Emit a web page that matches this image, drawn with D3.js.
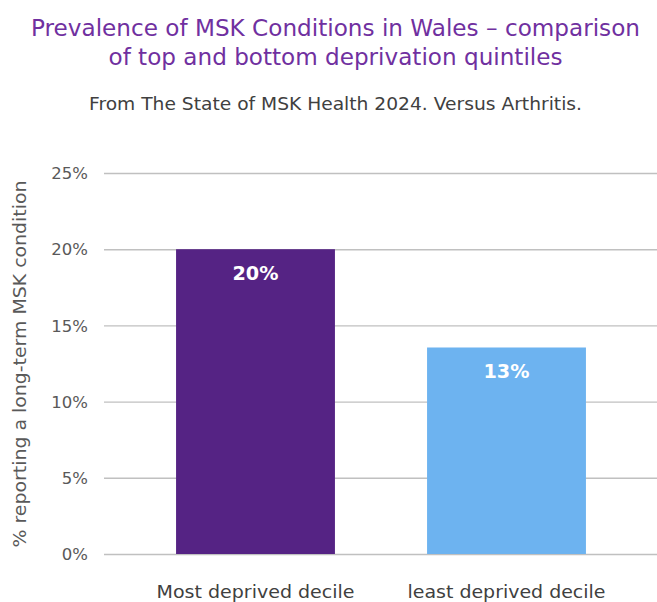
<!DOCTYPE html>
<html><head><meta charset="utf-8">
<script src="https://cdn.jsdelivr.net/npm/d3@7"></script>
<style>body{margin:0;background:#fff}svg{display:block}</style>
</head><body>
<svg id="c" width="657" height="602"></svg>
<script>
const categories = ["Most deprived decile", "least deprived decile"];
const values = [20.0, 13.55];
const valueLabels = ["20%", "13%"];
const barColors = ["#552384", "#6db3f0"];
const yTicks = [0, 5, 10, 15, 20, 25];
const titleLines = ["Prevalence of MSK Conditions in Wales \u2013 comparison", "of top and bottom deprivation quintiles"];
const subtitle = "From The State of MSK Health 2024. Versus Arthritis.";
const yTitle = "% reporting a long-term MSK condition";

const font = "'DejaVu Sans', sans-serif";
const svg = d3.select("#c");
const y = d3.scaleLinear().domain([0, 25]).range([554, 173]);
const x = d3.scaleBand().domain(categories).range([130, 632]).paddingInner(0.367).paddingOuter(0.1835);

// gridlines + y tick labels
const yAxis = d3.axisLeft(y).tickValues(yTicks).tickFormat(d => d + "%").tickSize(-(657 - 104)).tickPadding(16);
const gy = svg.append("g").attr("transform", "translate(104,0)").call(yAxis);
gy.select(".domain").remove();
gy.selectAll(".tick line").attr("stroke", "#c0c0c0").attr("stroke-width", 1.4);
gy.selectAll(".tick text").attr("fill", "#595959").attr("font-family", font).attr("font-size", 16.5)
  .attr("dy", "0.35em");

// bars
svg.append("g").selectAll("rect").data(values).join("rect")
  .attr("x", (d, i) => x(categories[i]))
  .attr("width", x.bandwidth())
  .attr("y", d => y(d))
  .attr("height", d => y(0) - y(d))
  .attr("fill", (d, i) => barColors[i]);

// value labels
svg.append("g").selectAll("text").data(values).join("text")
  .attr("x", (d, i) => x(categories[i]) + x.bandwidth() / 2)
  .attr("y", d => y(d) + 31)
  .attr("text-anchor", "middle")
  .attr("fill", "#ffffff").attr("font-weight", "bold")
  .attr("font-family", font).attr("font-size", 19)
  .attr("textLength", 46).attr("lengthAdjust", "spacingAndGlyphs")
  .text((d, i) => valueLabels[i]);

// x axis labels
const xAxis = d3.axisBottom(x).tickSize(0).tickPadding(0);
const gx = svg.append("g").attr("transform", "translate(0,598)").call(xAxis);
gx.select(".domain").remove();
gx.selectAll(".tick text").attr("fill", "#404040").attr("font-family", font).attr("font-size", 18.5).attr("dy", "0")
  .attr("textLength", 198).attr("lengthAdjust", "spacingAndGlyphs");

// y axis title
svg.append("text")
  .attr("transform", "translate(26,364) rotate(-90)")
  .attr("text-anchor", "middle")
  .attr("fill", "#595959").attr("font-family", font).attr("font-size", 17.5)
  .attr("textLength", 367).attr("lengthAdjust", "spacingAndGlyphs")
  .text(yTitle);

// title
const titleWidths = [609, 454];
svg.append("g").selectAll("text").data(titleLines).join("text")
  .attr("x", 335.5).attr("y", (d, i) => 36 + i * 28.5)
  .attr("text-anchor", "middle")
  .attr("fill", "#7030a0").attr("font-family", font).attr("font-size", 23)
  .attr("textLength", (d, i) => titleWidths[i]).attr("lengthAdjust", "spacingAndGlyphs")
  .text(d => d);

svg.append("text").attr("x", 335.5).attr("y", 110)
  .attr("text-anchor", "middle")
  .attr("fill", "#404040").attr("font-family", font).attr("font-size", 17)
  .attr("textLength", 493).attr("lengthAdjust", "spacingAndGlyphs")
  .text(subtitle);
</script>
</body></html>
